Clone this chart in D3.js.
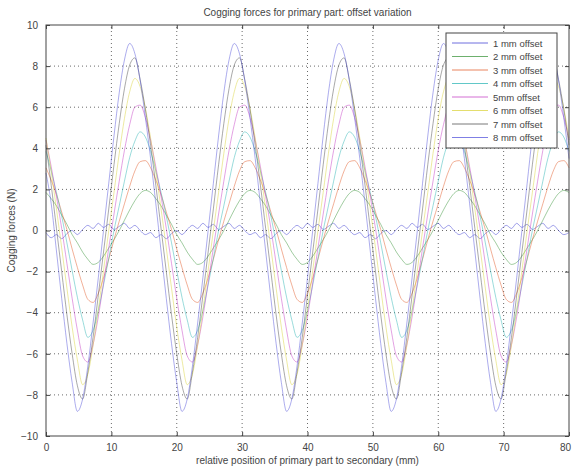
<!DOCTYPE html>
<html>
<head>
<meta charset="utf-8">
<script src="https://cdn.jsdelivr.net/npm/d3@7"></script>
<style>
  body { margin: 0; background: #fff; }
  svg { display: block; font-family: "Liberation Sans", Arial, sans-serif; }
</style>
</head>
<body>
<script>
"use strict";

// sample spacing along the position axis (mm)
const stepMm = 0.8;

const seriesNames = ["1 mm offset", "2 mm offset", "3 mm offset", "4 mm offset",
                     "5mm offset", "6 mm offset", "7 mm offset", "8 mm offset"];
const seriesColors = ["#3030d0", "#2f8f2f", "#e0501a", "#20b0b0",
                      "#c030c0", "#d8d030", "#404040", "#4848d8"];

const xTicks = [0, 10, 20, 30, 40, 50, 60, 70, 80];
const yTicks = [-10, -8, -6, -4, -2, 0, 2, 4, 6, 8, 10];

// cogging force (N), one sample every 0.8 mm, 0..80 mm
const offset1 = [
  -0.1, -0.35, -0.2, -0.4, -0.15, 0.0, -0.2, 0.05, 0.25, 0.1, 0.35, 0.15, 0.3, 0.05, 0.2, 0.35, 0.1, 0.25, 0.0, -0.2,
  -0.1, -0.35, -0.2, -0.4, -0.15, 0.0, -0.2, 0.05, 0.25, 0.1, 0.35, 0.15, 0.3, 0.05, 0.2, 0.35, 0.1, 0.25, 0.0, -0.2,
  -0.1, -0.35, -0.2, -0.4, -0.15, 0.0, -0.2, 0.05, 0.25, 0.1, 0.35, 0.15, 0.3, 0.05, 0.2, 0.35, 0.1, 0.25, 0.0, -0.2,
  -0.1, -0.35, -0.2, -0.4, -0.15, 0.0, -0.2, 0.05, 0.25, 0.1, 0.35, 0.15, 0.3, 0.05, 0.2, 0.35, 0.1, 0.25, 0.0, -0.2,
  -0.1, -0.35, -0.2, -0.4, -0.15, 0.0, -0.2, 0.05, 0.25, 0.1, 0.35, 0.15, 0.3, 0.05, 0.2, 0.35, 0.1, 0.25, 0.0, -0.2,
  -0.1
];
const offset2 = [
  1.85, 1.55, 1.2, 0.75, 0.3, -0.2, -0.6, -1.05, -1.4, -1.65, -1.55, -1.25, -0.85, -0.45, 0.0, 0.5, 1.0, 1.45, 1.8, 1.95,
  1.85, 1.55, 1.2, 0.75, 0.3, -0.2, -0.6, -1.05, -1.4, -1.65, -1.55, -1.25, -0.85, -0.45, 0.0, 0.5, 1.0, 1.45, 1.8, 1.95,
  1.85, 1.55, 1.2, 0.75, 0.3, -0.2, -0.6, -1.05, -1.4, -1.65, -1.55, -1.25, -0.85, -0.45, 0.0, 0.5, 1.0, 1.45, 1.8, 1.95,
  1.85, 1.55, 1.2, 0.75, 0.3, -0.2, -0.6, -1.05, -1.4, -1.65, -1.55, -1.25, -0.85, -0.45, 0.0, 0.5, 1.0, 1.45, 1.8, 1.95,
  1.85, 1.55, 1.2, 0.75, 0.3, -0.2, -0.6, -1.05, -1.4, -1.65, -1.55, -1.25, -0.85, -0.45, 0.0, 0.5, 1.0, 1.45, 1.8, 1.95,
  1.85
];
const offset3 = [
  3.05, 2.45, 1.75, 0.9, 0.05, -0.9, -1.8, -2.65, -3.35, -3.5, -3.05, -2.3, -1.4, -0.45, 0.45, 1.3, 2.15, 2.9, 3.35, 3.4,
  3.05, 2.45, 1.75, 0.9, 0.05, -0.9, -1.8, -2.65, -3.35, -3.5, -3.05, -2.3, -1.4, -0.45, 0.45, 1.3, 2.15, 2.9, 3.35, 3.4,
  3.05, 2.45, 1.75, 0.9, 0.05, -0.9, -1.8, -2.65, -3.35, -3.5, -3.05, -2.3, -1.4, -0.45, 0.45, 1.3, 2.15, 2.9, 3.35, 3.4,
  3.05, 2.45, 1.75, 0.9, 0.05, -0.9, -1.8, -2.65, -3.35, -3.5, -3.05, -2.3, -1.4, -0.45, 0.45, 1.3, 2.15, 2.9, 3.35, 3.4,
  3.05, 2.45, 1.75, 0.9, 0.05, -0.9, -1.8, -2.65, -3.35, -3.5, -3.05, -2.3, -1.4, -0.45, 0.45, 1.3, 2.15, 2.9, 3.35, 3.4,
  3.05
];
const offset4 = [
  3.85, 2.9, 1.85, 0.7, -0.6, -1.95, -3.25, -4.35, -5.2, -4.85, -3.9, -2.65, -1.35, 0.0, 1.2, 2.4, 3.55, 4.35, 4.8, 4.55,
  3.85, 2.9, 1.85, 0.7, -0.6, -1.95, -3.25, -4.35, -5.2, -4.85, -3.9, -2.65, -1.35, 0.0, 1.2, 2.4, 3.55, 4.35, 4.8, 4.55,
  3.85, 2.9, 1.85, 0.7, -0.6, -1.95, -3.25, -4.35, -5.2, -4.85, -3.9, -2.65, -1.35, 0.0, 1.2, 2.4, 3.55, 4.35, 4.8, 4.55,
  3.85, 2.9, 1.85, 0.7, -0.6, -1.95, -3.25, -4.35, -5.2, -4.85, -3.9, -2.65, -1.35, 0.0, 1.2, 2.4, 3.55, 4.35, 4.8, 4.55,
  3.85, 2.9, 1.85, 0.7, -0.6, -1.95, -3.25, -4.35, -5.2, -4.85, -3.9, -2.65, -1.35, 0.0, 1.2, 2.4, 3.55, 4.35, 4.8, 4.55,
  3.85
];
const offset5 = [
  4.4, 3.1, 1.65, 0.1, -1.6, -3.3, -4.85, -6.1, -6.4, -5.55, -4.2, -2.55, -0.85, 0.8, 2.4, 3.9, 5.15, 6.0, 6.1, 5.5,
  4.4, 3.1, 1.65, 0.1, -1.6, -3.3, -4.85, -6.1, -6.4, -5.55, -4.2, -2.55, -0.85, 0.8, 2.4, 3.9, 5.15, 6.0, 6.1, 5.5,
  4.4, 3.1, 1.65, 0.1, -1.6, -3.3, -4.85, -6.1, -6.4, -5.55, -4.2, -2.55, -0.85, 0.8, 2.4, 3.9, 5.15, 6.0, 6.1, 5.5,
  4.4, 3.1, 1.65, 0.1, -1.6, -3.3, -4.85, -6.1, -6.4, -5.55, -4.2, -2.55, -0.85, 0.8, 2.4, 3.9, 5.15, 6.0, 6.1, 5.5,
  4.4, 3.1, 1.65, 0.1, -1.6, -3.3, -4.85, -6.1, -6.4, -5.55, -4.2, -2.55, -0.85, 0.8, 2.4, 3.9, 5.15, 6.0, 6.1, 5.5,
  4.4
];
const offset6 = [
  4.5, 2.85, 1.05, -0.85, -2.8, -4.7, -6.3, -7.5, -7.0, -5.6, -3.85, -1.95, 0.0, 1.85, 3.75, 5.45, 6.75, 7.4, 7.0, 5.95,
  4.5, 2.85, 1.05, -0.85, -2.8, -4.7, -6.3, -7.5, -7.0, -5.6, -3.85, -1.95, 0.0, 1.85, 3.75, 5.45, 6.75, 7.4, 7.0, 5.95,
  4.5, 2.85, 1.05, -0.85, -2.8, -4.7, -6.3, -7.5, -7.0, -5.6, -3.85, -1.95, 0.0, 1.85, 3.75, 5.45, 6.75, 7.4, 7.0, 5.95,
  4.5, 2.85, 1.05, -0.85, -2.8, -4.7, -6.3, -7.5, -7.0, -5.6, -3.85, -1.95, 0.0, 1.85, 3.75, 5.45, 6.75, 7.4, 7.0, 5.95,
  4.5, 2.85, 1.05, -0.85, -2.8, -4.7, -6.3, -7.5, -7.0, -5.6, -3.85, -1.95, 0.0, 1.85, 3.75, 5.45, 6.75, 7.4, 7.0, 5.95,
  4.5
];
const offset7 = [
  4.15, 2.2, 0.1, -2.0, -4.1, -6.0, -7.55, -8.2, -6.9, -5.2, -3.15, -1.05, 1.05, 3.2, 5.2, 6.9, 8.05, 8.4, 7.35, 5.9,
  4.15, 2.2, 0.1, -2.0, -4.1, -6.0, -7.55, -8.2, -6.9, -5.2, -3.15, -1.05, 1.05, 3.2, 5.2, 6.9, 8.05, 8.4, 7.35, 5.9,
  4.15, 2.2, 0.1, -2.0, -4.1, -6.0, -7.55, -8.2, -6.9, -5.2, -3.15, -1.05, 1.05, 3.2, 5.2, 6.9, 8.05, 8.4, 7.35, 5.9,
  4.15, 2.2, 0.1, -2.0, -4.1, -6.0, -7.55, -8.2, -6.9, -5.2, -3.15, -1.05, 1.05, 3.2, 5.2, 6.9, 8.05, 8.4, 7.35, 5.9,
  4.15, 2.2, 0.1, -2.0, -4.1, -6.0, -7.55, -8.2, -6.9, -5.2, -3.15, -1.05, 1.05, 3.2, 5.2, 6.9, 8.05, 8.4, 7.35, 5.9,
  4.15
];
const offset8 = [
  2.8, 1.3, -1.0, -3.3, -5.5, -7.4, -8.8, -8.2, -6.6, -4.5, -2.3, 0.0, 2.3, 4.6, 6.7, 8.3, 9.1, 8.6, 7.3, 5.5,
  3.5, 1.3, -1.0, -3.3, -5.5, -7.4, -8.8, -8.2, -6.6, -4.5, -2.3, 0.0, 2.3, 4.6, 6.7, 8.3, 9.1, 8.6, 7.3, 5.5,
  3.5, 1.3, -1.0, -3.3, -5.5, -7.4, -8.8, -8.2, -6.6, -4.5, -2.3, 0.0, 2.3, 4.6, 6.7, 8.3, 9.1, 8.6, 7.3, 5.5,
  3.5, 1.3, -1.0, -3.3, -5.5, -7.4, -8.8, -8.2, -6.6, -4.5, -2.3, 0.0, 2.3, 4.6, 6.7, 8.3, 9.1, 8.6, 7.3, 5.5,
  3.5, 1.3, -1.0, -3.3, -5.5, -7.4, -8.8, -8.2, -6.6, -4.5, -2.3, 0.0, 2.3, 4.6, 6.7, 8.3, 9.1, 8.6, 7.3, 5.5,
  3.5
];

const allSeries = [offset1, offset2, offset3, offset4, offset5, offset6, offset7, offset8];

const W = 573, H = 470;
const margin = {left: 46, right: 4, top: 25, bottom: 34};

const svg = d3.select("body").append("svg")
    .attr("width", W)
    .attr("height", H);

svg.append("rect").attr("width", W).attr("height", H).attr("fill", "#fff");

let x = d3.scaleLinear().domain([0, 80]).range([margin.left, W - margin.right]);
let y = d3.scaleLinear().domain([-10, 10]).range([H - margin.bottom, margin.top]);

const plot = svg.append("g");

// dotted grid
plot.append("g").selectAll("line")
    .data(xTicks.slice(1, -1))
    .enter().append("line")
    .attr("x1", d => x(d)).attr("x2", d => x(d))
    .attr("y1", y(-10)).attr("y2", y(10))
    .attr("stroke", "#444").attr("stroke-width", 0.8)
    .attr("stroke-dasharray", "1,3");
plot.append("g").selectAll("line")
    .data(yTicks.slice(1, -1))
    .enter().append("line")
    .attr("x1", x(0)).attr("x2", x(80))
    .attr("y1", d => y(d)).attr("y2", d => y(d))
    .attr("stroke", "#444").attr("stroke-width", 0.8)
    .attr("stroke-dasharray", "1,3");

// curves
let line = d3.line()
    .x((d, i) => x(i * stepMm))
    .y(d => y(d))
    .curve(d3.curveMonotoneX);

plot.append("g").selectAll("path")
    .data(allSeries)
    .enter().append("path")
    .attr("d", d => line(d))
    .attr("fill", "none")
    .attr("stroke", (d, i) => seriesColors[i])
    .attr("stroke-opacity", 0.5)
    .attr("stroke-width", 0.9);

// axes with ticks on all four sides, pointing in
function styleAxis(g) {
    g.select(".domain").remove();
    g.selectAll("line").attr("stroke", "#444");
    g.selectAll("text").attr("fill", "#444").style("font-size", "10px");
}
svg.append("g").attr("transform", `translate(0,${y(-10)})`)
    .call(d3.axisBottom(x).tickValues(xTicks).tickSize(-4).tickPadding(8))
    .call(styleAxis)
    .selectAll("text").filter(d => d === 80).attr("dx", "-4");
svg.append("g").attr("transform", `translate(0,${y(10)})`)
    .call(d3.axisTop(x).tickValues(xTicks).tickSize(-4).tickFormat(""))
    .call(styleAxis);
svg.append("g").attr("transform", `translate(${x(0)},0)`)
    .call(d3.axisLeft(y).tickValues(yTicks).tickSize(-4).tickPadding(8))
    .call(styleAxis);
svg.append("g").attr("transform", `translate(${x(80)},0)`)
    .call(d3.axisRight(y).tickValues(yTicks).tickSize(-4).tickFormat(""))
    .call(styleAxis);

svg.append("rect")
    .attr("x", x(0)).attr("y", y(10))
    .attr("width", x(80) - x(0)).attr("height", y(-10) - y(10))
    .attr("fill", "none").attr("stroke", "#444").attr("stroke-width", 1);

// titles
svg.append("text")
    .attr("x", (x(0) + x(80)) / 2).attr("y", 16)
    .attr("text-anchor", "middle").attr("fill", "#444").style("font-size", "10px")
    .text("Cogging forces for primary part: offset variation");
svg.append("text")
    .attr("x", (x(0) + x(80)) / 2).attr("y", 464)
    .attr("text-anchor", "middle").attr("fill", "#444").style("font-size", "10px")
    .text("relative position of primary part to secondary (mm)");
svg.append("text")
    .attr("transform", `translate(15,${y(0)}) rotate(-90)`)
    .attr("text-anchor", "middle").attr("fill", "#444").style("font-size", "10px")
    .text("Cogging forces (N)");

// legend
const lg = svg.append("g").attr("transform", "translate(446,33)");
lg.append("rect").attr("width", 111).attr("height", 115)
    .attr("fill", "#fff").attr("stroke", "#444").attr("stroke-width", 1);
const rows = lg.selectAll("g.row")
    .data(seriesNames)
    .enter().append("g").attr("class", "row")
    .attr("transform", (d, i) => `translate(0,${10 + i * 13.5})`);
rows.append("line")
    .attr("x1", 6).attr("x2", 42)
    .attr("stroke", (d, i) => seriesColors[i]).attr("stroke-opacity", 0.7)
    .attr("stroke-width", 1);
rows.append("text")
    .attr("x", 47).attr("y", 3.5)
    .attr("fill", "#444").style("font-size", "9.5px")
    .text(d => d);
</script>
</body>
</html>
